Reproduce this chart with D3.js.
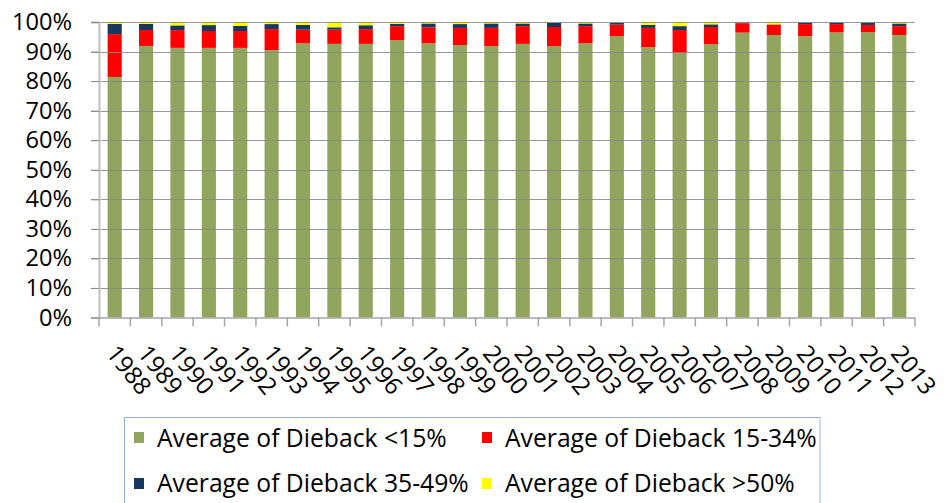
<!DOCTYPE html>
<html><head><meta charset="utf-8">
<script src="https://cdn.jsdelivr.net/npm/d3@7"></script>
<style>body{margin:0;background:#fff}svg{display:block}text{font-family:"Open Sans",sans-serif;fill:#000}</style>
</head><body><svg id="c" width="947" height="503"></svg>
<script>
const years = ["1988","1989","1990","1991","1992","1993","1994","1995","1996","1997","1998","1999","2000","2001","2002","2003","2004","2005","2006","2007","2008","2009","2010","2011","2012","2013"];
const seriesNames = ["Average of Dieback <15%","Average of Dieback 15-34%","Average of Dieback 35-49%","Average of Dieback >50%"];
const lt15   = [81.4,91.9,91.25,91.25,91.25,90.5,92.8,92.6,92.6,93.9,92.8,92.2,91.8,92.6,91.8,92.8,95.2,91.5,89.4,92.5,96.4,95.6,95.2,96.5,96.6,95.6];
const d15_34 = [14.5,5.4,6.0,5.7,5.7,7.1,4.6,4.8,5.0,4.7,5.4,5.8,6.2,6.0,6.5,5.8,3.9,6.5,7.9,5.8,3.2,3.5,4.1,2.8,2.4,3.0];
const d35_49 = [3.5,2.1,1.6,2.0,1.7,1.7,1.6,0.8,1.3,0.8,1.3,1.3,1.5,0.9,1.5,0.9,0.7,1.0,1.3,0.9,0.3,0.1,0.6,0.6,0.9,0.9];
const gt50   = [0.6,0.6,1.15,1.05,1.35,0.7,1.0,1.8,1.1,0.6,0.5,0.7,0.5,0.5,0.2,0.5,0.2,1.0,1.4,0.8,0.1,0.8,0.1,0.1,0.1,0.5];
const yTicks = [0,0.1,0.2,0.3,0.4,0.5,0.6,0.7,0.8,0.9,1.0];
const colors = ["#92A55F","#FF0000","#17375E","#FFFF00"];

const keys = ["a","b","c","d"];
const rows = years.map((y,i)=>({year:y,a:lt15[i],b:d15_34[i],c:d35_49[i],d:gt50[i]}));
const stacked = d3.stack().keys(keys).offset(d3.stackOffsetExpand)(rows);

const svg = d3.select("#c");
const L = 99, R = 915, T = 22, B = 317.5;
const x = d3.scaleBand().domain(years).range([L,R]).paddingInner(0.55).paddingOuter(0.275);
const xb = d3.scaleBand().domain(years).range([L,R]);
const y = d3.scaleLinear().domain([0,1]).range([B,T]);

function fitSize(sample, target){
  const t = svg.append("text").attr("font-size",20).text(sample);
  const w = t.node().getComputedTextLength(); t.remove();
  return 20*target/w;
}
const fsY = fitSize("100%", 60);
const fsL = fitSize("Average of Dieback 15-34%", 312);
const fsX = fitSize("1988", 55);

// bars
svg.append("g").selectAll("g").data(stacked).join("g").attr("fill",(d,i)=>colors[i])
  .selectAll("rect").data(d=>d).join("rect")
  .attr("x",d=>x(d.data.year)).attr("width",x.bandwidth())
  .attr("y",d=>y(d[1])).attr("height",d=>Math.max(0,y(d[0])-y(d[1])));

// gridlines (drawn over bars)
svg.append("g").selectAll("line").data(yTicks.filter(t=>t>0)).join("line")
  .attr("x1",L-8).attr("x2",R).attr("y1",d=>Math.round(y(d))+0.5).attr("y2",d=>Math.round(y(d))+0.5)
  .attr("stroke","#878787").attr("stroke-opacity",0.85).attr("stroke-width",1);

// y axis
const ya = svg.append("g").attr("transform",`translate(${L},0)`)
  .call(d3.axisLeft(y).tickValues(yTicks).tickFormat(d3.format(".0%")).tickSize(8).tickPadding(19));
ya.select(".domain").attr("stroke","#BFBFBF").attr("stroke-width",2);
ya.selectAll(".tick line").attr("stroke","#878787");
ya.selectAll(".tick text").attr("font-size",fsY).attr("font-family","'Open Sans',sans-serif").attr("fill","#000");

// x axis
const xa = svg.append("g").attr("transform",`translate(0,${B})`);
xa.append("line").attr("x1",L).attr("x2",R).attr("y1",0.5).attr("y2",0.5).attr("stroke","#A6A6A6").attr("stroke-width",1.5);
xa.selectAll("line.t").data(years.concat(["end"])).join("line").attr("class","t")
  .attr("x1",(d,i)=> i<years.length ? xb(d) : R).attr("x2",(d,i)=> i<years.length ? xb(d) : R)
  .attr("y1",0).attr("y2",9).attr("stroke","#A6A6A6").attr("stroke-width",1.5);
xa.selectAll("text").data(years).join("text")
  .attr("transform",d=>`translate(${x(d)+x.bandwidth()/2-3},${31}) rotate(51)`)
  .attr("font-size",fsX).attr("text-anchor","start").attr("dy","0.35em")
  .text(d=>d);

// legend
const lg = svg.append("g");
lg.append("rect").attr("x",124.5).attr("y",417.5).attr("width",695.5).attr("height",100)
  .attr("fill","none").attr("stroke","#95B3D7").attr("stroke-width",1);
const lpos = [[134,432,157,446.5],[482,432,505,446.5],[134,478,157,491.5],[482,478,505,491.5]];
seriesNames.forEach((n,i)=>{
  const p = lpos[i];
  lg.append("rect").attr("x",p[0]).attr("y",p[1]).attr("width",10).attr("height",11).attr("fill",colors[i]);
  lg.append("text").attr("x",p[2]).attr("y",p[3]).attr("font-size",fsL).text(n);
});
</script></body></html>
